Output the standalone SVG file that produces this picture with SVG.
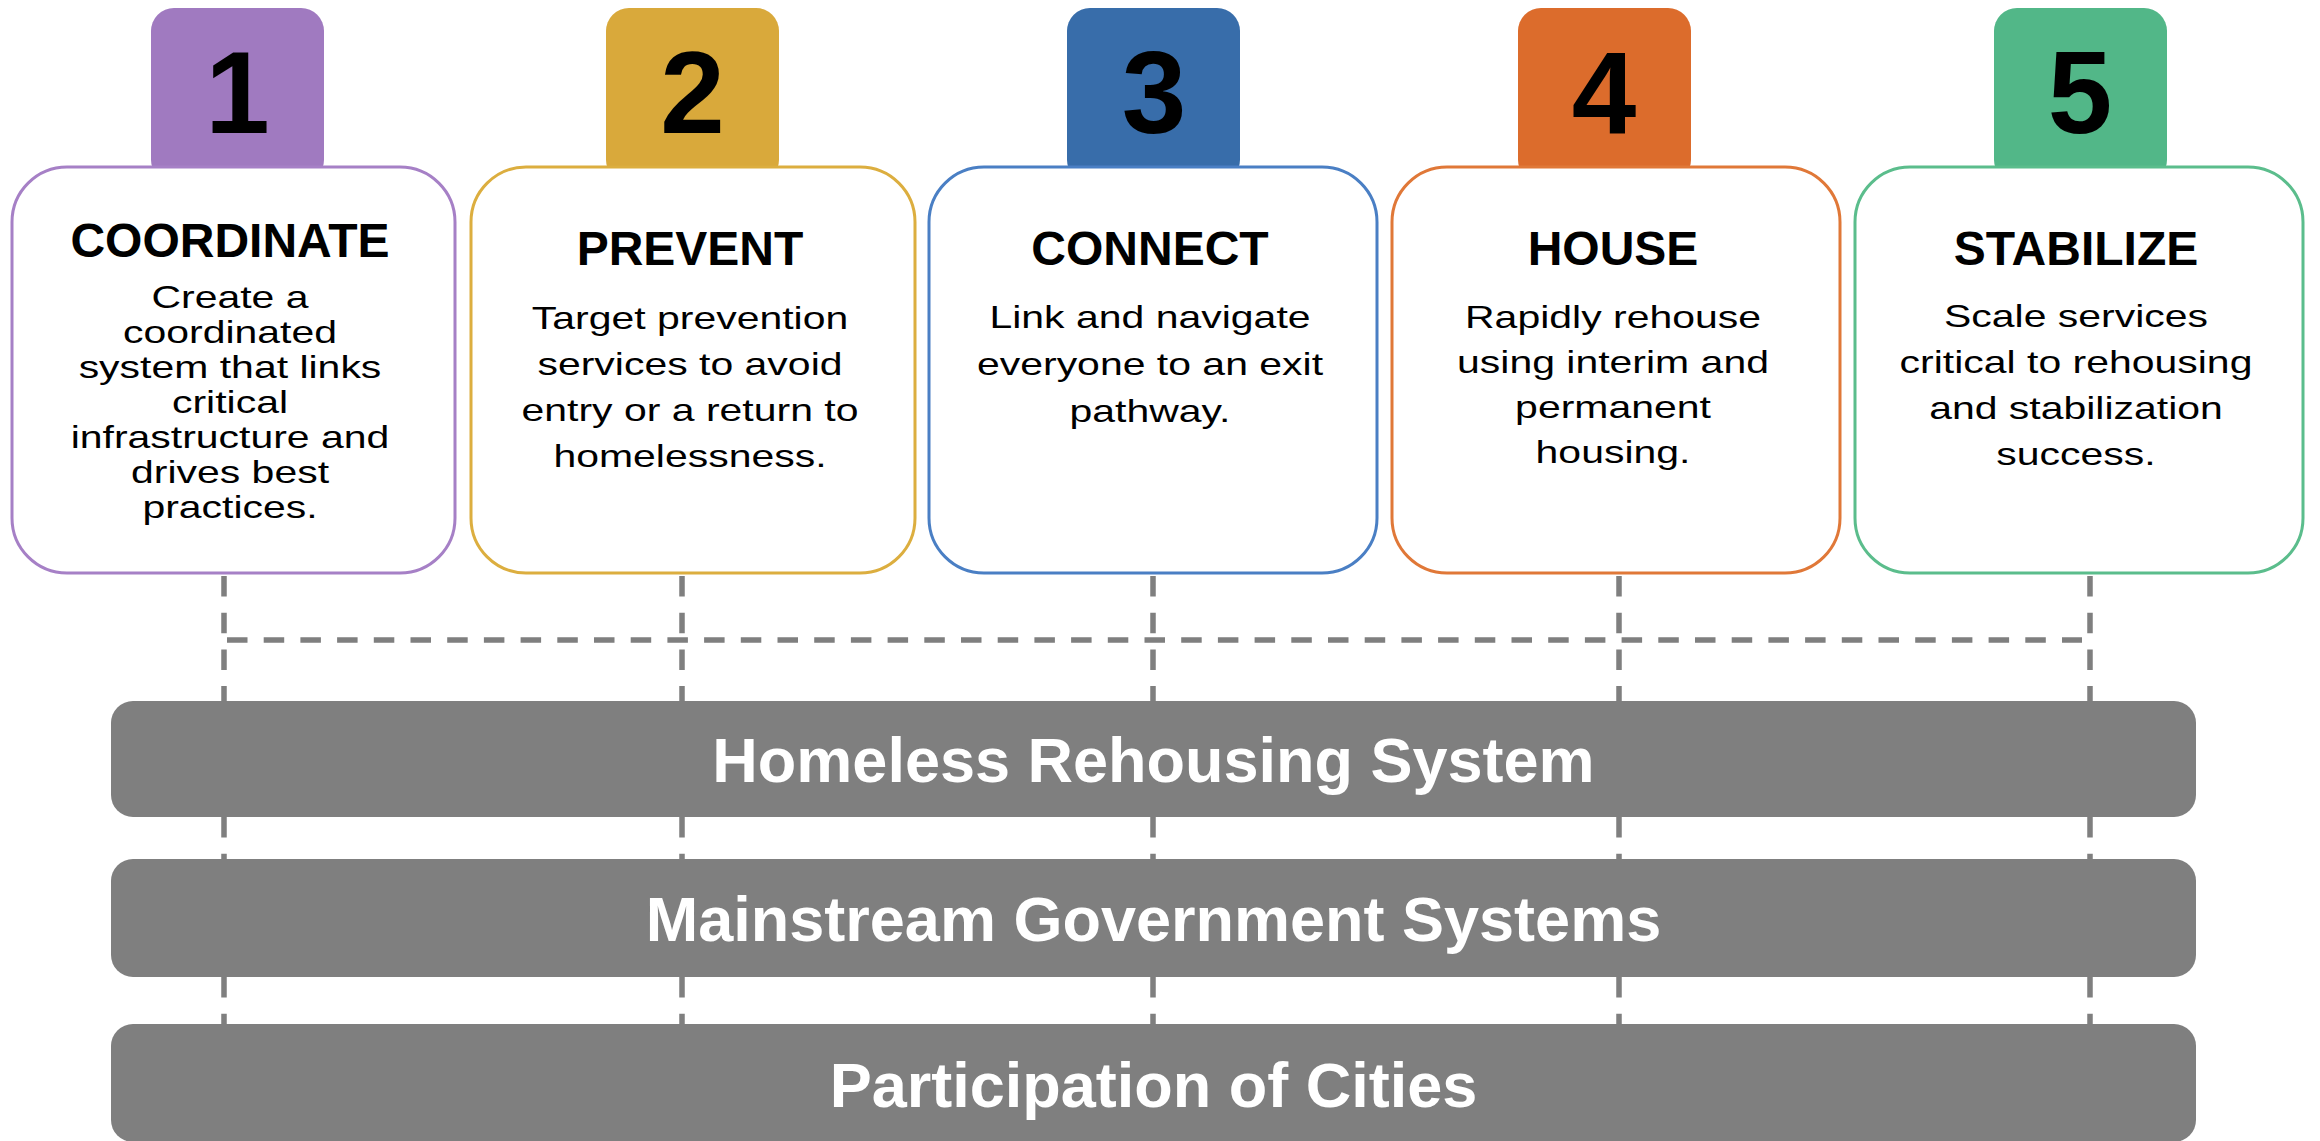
<svg xmlns="http://www.w3.org/2000/svg" width="2320" height="1141" viewBox="0 0 2320 1141">
  <style>
    text { font-family: "Liberation Sans", Arial, Helvetica, sans-serif; text-anchor: middle; }
    .num { font-size: 116px; font-weight: bold; fill: #000; }
    .title { font-size: 48px; font-weight: bold; fill: #000; }
    .body { font-size: 32px; fill: #000; }
    .bar { fill: #7f7f7f; }
    .bartext { font-size: 63px; font-weight: bold; fill: #fff; }
    .card { fill: #fff; stroke-width: 3; }
    .dash { stroke: #7f7f7f; stroke-width: 5.5; stroke-dasharray: 20.5 16.2; fill: none; }
  </style>

  <!-- dashed connectors: drops from each card, the cross rail, and the runs between the bars -->
  <g id="connectors" class="dash">
    <path d="M227 640 H2082"/>
    <path d="M224 576 V701 M224 817 V859 M224 977 V1024"/>
    <path d="M682 576 V701 M682 817 V859 M682 977 V1024"/>
    <path d="M1153 576 V701 M1153 817 V859 M1153 977 V1024"/>
    <path d="M1619 576 V701 M1619 817 V859 M1619 977 V1024"/>
    <path d="M2090 576 V701 M2090 817 V859 M2090 977 V1024"/>
  </g>

  <!-- step 1 -->
  <g id="step1">
    <rect x="151" y="8" width="173" height="175" rx="23" fill="#a07ac0"/>
    <text class="num" x="237.5" y="133">1</text>
    <rect class="card" x="12" y="167" width="443" height="406" rx="55" stroke="#a680c6"/>
    <text class="title" x="230" y="257">COORDINATE</text>
    <g transform="translate(230 0) scale(1.28 1)">
      <text class="body" x="0" y="308">Create a</text>
      <text class="body" x="0" y="343">coordinated</text>
      <text class="body" x="0" y="378">system that links</text>
      <text class="body" x="0" y="413">critical</text>
      <text class="body" x="0" y="448">infrastructure and</text>
      <text class="body" x="0" y="483">drives best</text>
      <text class="body" x="0" y="518">practices.</text>
    </g>
  </g>

  <!-- step 2 -->
  <g id="step2">
    <rect x="606" y="8" width="173" height="175" rx="23" fill="#d9a93b"/>
    <text class="num" x="692.5" y="133">2</text>
    <rect class="card" x="471" y="167" width="444" height="406" rx="55" stroke="#dcae3f"/>
    <text class="title" x="690" y="265">PREVENT</text>
    <g transform="translate(690 0) scale(1.28 1)">
      <text class="body" x="0" y="329">Target prevention</text>
      <text class="body" x="0" y="375">services to avoid</text>
      <text class="body" x="0" y="421">entry or a return to</text>
      <text class="body" x="0" y="467">homelessness.</text>
    </g>
  </g>

  <!-- step 3 -->
  <g id="step3">
    <rect x="1067" y="8" width="173" height="175" rx="23" fill="#386daa"/>
    <text class="num" x="1154" y="133">3</text>
    <rect class="card" x="929" y="167" width="448" height="406" rx="55" stroke="#4a7fc4"/>
    <text class="title" x="1150" y="265">CONNECT</text>
    <g transform="translate(1150 0) scale(1.28 1)">
      <text class="body" x="0" y="328">Link and navigate</text>
      <text class="body" x="0" y="375">everyone to an exit</text>
      <text class="body" x="0" y="422">pathway.</text>
    </g>
  </g>

  <!-- step 4 -->
  <g id="step4">
    <rect x="1518" y="8" width="173" height="175" rx="23" fill="#dc6c2c"/>
    <text class="num" x="1604" y="133">4</text>
    <rect class="card" x="1392" y="167" width="448" height="406" rx="55" stroke="#e07838"/>
    <text class="title" x="1613" y="265">HOUSE</text>
    <g transform="translate(1613 0) scale(1.28 1)">
      <text class="body" x="0" y="328">Rapidly rehouse</text>
      <text class="body" x="0" y="373">using interim and</text>
      <text class="body" x="0" y="418">permanent</text>
      <text class="body" x="0" y="463">housing.</text>
    </g>
  </g>

  <!-- step 5 -->
  <g id="step5">
    <rect x="1994" y="8" width="173" height="175" rx="23" fill="#52b788"/>
    <text class="num" x="2080" y="133">5</text>
    <rect class="card" x="1855" y="167" width="448" height="406" rx="55" stroke="#5bbd8c"/>
    <text class="title" x="2076" y="265">STABILIZE</text>
    <g transform="translate(2076 0) scale(1.28 1)">
      <text class="body" x="0" y="327">Scale services</text>
      <text class="body" x="0" y="373">critical to rehousing</text>
      <text class="body" x="0" y="419">and stabilization</text>
      <text class="body" x="0" y="465">success.</text>
    </g>
  </g>

  <!-- foundation bars -->
  <g id="bar-rehousing">
    <rect class="bar" x="111" y="701" width="2085" height="116" rx="22"/>
    <text class="bartext" x="1153.5" y="782">Homeless Rehousing System</text>
  </g>
  <g id="bar-government">
    <rect class="bar" x="111" y="859" width="2085" height="118" rx="22"/>
    <text class="bartext" x="1153.5" y="941">Mainstream Government Systems</text>
  </g>
  <g id="bar-cities">
    <rect class="bar" x="111" y="1024" width="2085" height="118" rx="22"/>
    <text class="bartext" x="1153.5" y="1107">Participation of Cities</text>
  </g>
</svg>
